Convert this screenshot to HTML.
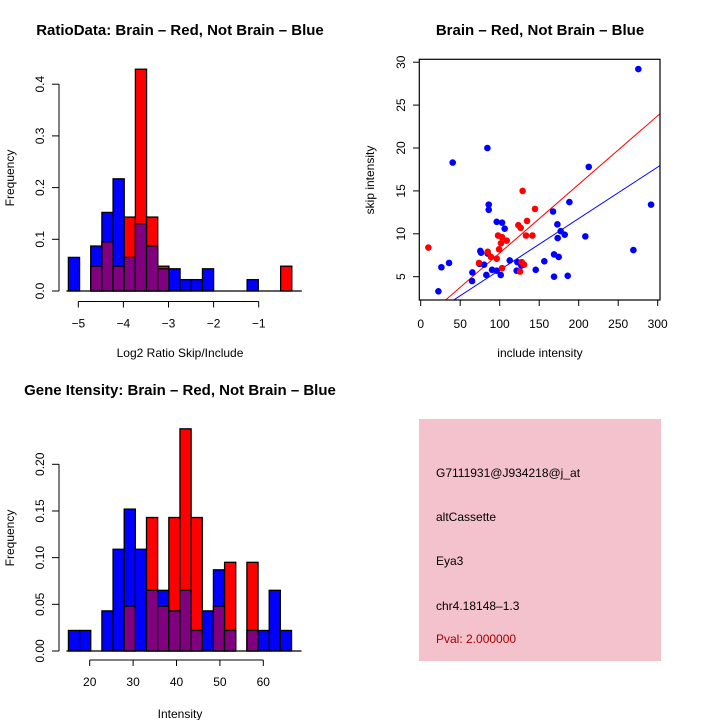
<!DOCTYPE html>
<html><head><meta charset="utf-8"><style>
body{margin:0;background:#fff}
svg{display:block;font-family:"Liberation Sans",sans-serif}
</style></head><body>
<svg id="c" width="720" height="720" viewBox="0 0 720 720">
<rect width="720" height="720" fill="#fff"/>
<text x="180" y="35" text-anchor="middle" font-size="15" font-weight="bold">RatioData: Brain – Red, Not Brain – Blue</text>
<text x="540" y="35" text-anchor="middle" font-size="15" font-weight="bold">Brain – Red, Not Brain – Blue</text>
<text x="180" y="395" text-anchor="middle" font-size="15" font-weight="bold">Gene Itensity: Brain – Red, Not Brain – Blue</text>
<text x="180" y="357" text-anchor="middle" font-size="12">Log2 Ratio Skip/Include</text>
<text x="180" y="718" text-anchor="middle" font-size="12">Intensity</text>
<text x="540" y="357" text-anchor="middle" font-size="12">include intensity</text>
<text transform="translate(14,178) rotate(-90)" text-anchor="middle" font-size="12">Frequency</text>
<text transform="translate(14,538) rotate(-90)" text-anchor="middle" font-size="12">Frequency</text>
<text transform="translate(374,180) rotate(-90)" text-anchor="middle" font-size="12">skip intensity</text>
<g>
<rect x="419" y="419" width="242" height="242" fill="#f4c2cc"/>
<text x="436" y="477" font-size="12">G7111931@J934218@j_at</text>
<text x="436" y="521" font-size="12">altCassette</text>
<text x="436" y="565" font-size="12">Eya3</text>
<text x="436" y="610" font-size="12">chr4.18148–1.3</text>
<text x="436" y="643" font-size="12" fill="#a00000">Pval: 2.000000</text>
</g>
<g id="g"></g>
</svg>
<script>
// Ratio histogram data
const ratioBinStart = -5.22, ratioBinWidth = 0.2477;
const ratioBlue = [0.065,0,0.087,0.152,0.217,0.065,0.13,0.087,0.043,0.043,0.022,0.022,0.043,0,0,0,0.022,0,0,0];
const ratioRed = [0,0,0.048,0.095,0.048,0.143,0.429,0.143,0.048,0,0,0,0,0,0,0,0,0,0,0.048];
const ratioXTicks = [-5,-4,-3,-2,-1];
const ratioYTicks = [0,0.1,0.2,0.3,0.4];
const ratioYLabels = ["0.0","0.1","0.2","0.3","0.4"];
// Intensity histogram data
const intBinStart = 15.1, intBinWidth = 2.57;
const intBlue = [0.022,0.022,0,0.043,0.109,0.152,0.109,0.065,0.065,0.043,0.065,0.022,0.043,0.087,0.022,0,0.022,0.022,0.065,0.022];
const intRed = [0,0,0,0,0,0.048,0,0.143,0.048,0.143,0.238,0.143,0,0.048,0.095,0,0.095,0,0,0];
const intXTicks = [20,30,40,50,60];
const intYTicks = [0,0.05,0.10,0.15,0.20];
const intYLabels = ["0.00","0.05","0.10","0.15","0.20"];
// Scatter data
const blueX = [275.5,84.4,40.5,212.7,188.2,291.6,86.1,86.1,167.5,173,96.2,103,106.3,177.2,182.3,173.4,208.4,269.2,75.5,76.4,84.8,168.8,174.7,112.7,156.5,122.4,74.3,80.2,35.9,26.2,127.4,65.4,90.3,96.2,101.3,121.5,145.6,83.1,168.8,186.1,65,22.4];
const blueY = [29.2,20.0,18.3,17.8,13.7,13.4,13.4,12.8,12.6,11.1,11.4,11.3,10.6,10.3,9.9,9.5,9.7,8.1,8.0,7.8,7.7,7.6,7.3,6.9,6.8,6.7,6.5,6.4,6.6,6.1,6.3,5.5,5.8,5.7,5.2,5.7,5.8,5.2,5.0,5.1,4.5,3.3];
const redX = [9.7,129,144.7,134.6,123.6,126.6,97.9,103,141.4,133.3,108.9,101.7,99.2,84.8,89,96.2,73.8,127.8,130.8,103,125.7];
const redY = [8.4,15.0,12.9,11.5,11.0,10.7,9.8,9.6,9.8,9.8,9.2,8.9,8.2,7.9,7.3,7.1,6.6,6.7,6.4,6.0,5.6];
const redFit = [-0.24,0.08];
const blueFit = [-0.22,0.06];
const scXTicks = [0,50,100,150,200,250,300];
const scYTicks = [5,10,15,20,25,30];

const NS="http://www.w3.org/2000/svg", G=document.getElementById('g');
function el(t,a,p){const e=document.createElementNS(NS,t);for(const k in a)e.setAttribute(k,a[k]);(p||G).appendChild(e);return e;}

function hist(o){
  const sx=v=>o.x0+(v-o.d0)*o.kx, sy=v=>o.y0-v*o.ky;
  const g=el('g',{});
  
  
  for(let i=0;i<o.blue.length;i++){
    const a=sx(o.start+i*o.w), b=sx(o.start+(i+1)*o.w);
    const bl=o.blue[i], rd=o.red[i];
    const bars=[];
    if(bl>0&&rd>0){
      bars.push(bl>rd?[bl,'#0000ff','bar-blue-'+i]:[rd,'#ff0000','bar-red-'+i]);
      bars.push([Math.min(bl,rd),'#800080','bar-overlap-'+i]);
    } else if(bl>0) bars.push([bl,'#0000ff','bar-blue-'+i]);
    else if(rd>0) bars.push([rd,'#ff0000','bar-red-'+i]);
    for(const [v,c,n] of bars){
      const r=el('rect',{x:a,y:sy(v),width:b-a,height:sy(0)-sy(v),fill:c,stroke:'#000','stroke-width':1.3},g);
      
      
    }
  }
  el('line',{x1:sx(o.start)-2,x2:sx(o.start+o.blue.length*o.w)+10,y1:o.y0,y2:o.y0,stroke:'#000','stroke-width':1.3},g);
  const xa=el('g',{},g);
  
  
  const ay=o.xaxisY;
  el('line',{x1:sx(o.xt[0]),x2:sx(o.xt[o.xt.length-1]),y1:ay,y2:ay,stroke:'#000'},xa);
  o.xt.forEach(t=>{el('line',{x1:sx(t),x2:sx(t),y1:ay,y2:ay+6,stroke:'#000'},xa);
    const tx=el('text',{x:sx(t),y:ay+26,'text-anchor':'middle','font-size':12},xa);tx.textContent=String(t).replace('-','−');});
  const ya=el('g',{},g);
  
  
  el('line',{x1:59,x2:59,y1:sy(o.yt[0]),y2:sy(o.yt[o.yt.length-1]),stroke:'#000'},ya);
  o.yt.forEach((t,i)=>{el('line',{x1:52,x2:59,y1:sy(t),y2:sy(t),stroke:'#000'},ya);
    const tx=el('text',{transform:`translate(44,${sy(t)}) rotate(-90)`,'text-anchor':'middle','font-size':12},ya);tx.textContent=o.yl[i];});
}
hist({name:'ratio-histogram',blue:ratioBlue,red:ratioRed,start:ratioBinStart,w:ratioBinWidth,d0:-5,x0:78.3,kx:45.1,y0:291,ky:517,xt:ratioXTicks,yt:ratioYTicks,yl:ratioYLabels,xaxisY:301.5});
hist({name:'intensity-histogram',blue:intBlue,red:intRed,start:intBinStart,w:intBinWidth,d0:20,x0:89.7,kx:4.34,y0:651,ky:933.5,xt:intXTicks,yt:intYTicks,yl:intYLabels,xaxisY:660});

(function(){
  const sx=v=>420.7+v*0.79, sy=v=>276.7-(v-5)*8.58;
  const g=el('g',{});
  
  
  el('clipPath',{id:'cp'},g).appendChild(el('rect',{x:419,y:59,width:241,height:241},g));
  const lr=el('line',{x1:sx(0),y1:sy(redFit[0]),x2:sx(310),y2:sy(redFit[0]+redFit[1]*310),stroke:'#ff0000','clip-path':'url(#cp)'},g);
  
  
  const lb=el('line',{x1:sx(0),y1:sy(blueFit[0]),x2:sx(310),y2:sy(blueFit[0]+blueFit[1]*310),stroke:'#0000ff','clip-path':'url(#cp)'},g);
  
  
  blueX.forEach((x,i)=>{const c=el('circle',{cx:sx(x),cy:sy(blueY[i]),r:3.3,fill:'#0000ff'},g);
    
    });
  redX.forEach((x,i)=>{const c=el('circle',{cx:sx(x),cy:sy(redY[i]),r:3.3,fill:'#ff0000'},g);
    
    });
  el('rect',{x:419.3,y:59.3,width:240.7,height:240.7,fill:'none',stroke:'#000','stroke-width':1.2},g);
  scXTicks.forEach(t=>{el('line',{x1:sx(t),x2:sx(t),y1:300,y2:306,stroke:'#000'},g);
    const tx=el('text',{x:sx(t),y:328,'text-anchor':'middle','font-size':12},g);tx.textContent=t;});
  scYTicks.forEach(t=>{el('line',{x1:413,x2:419.3,y1:sy(t),y2:sy(t),stroke:'#000'},g);
    const tx=el('text',{transform:`translate(405,${sy(t)}) rotate(-90)`,'text-anchor':'middle','font-size':12},g);tx.textContent=t;});
})();
</script>
</body></html>
